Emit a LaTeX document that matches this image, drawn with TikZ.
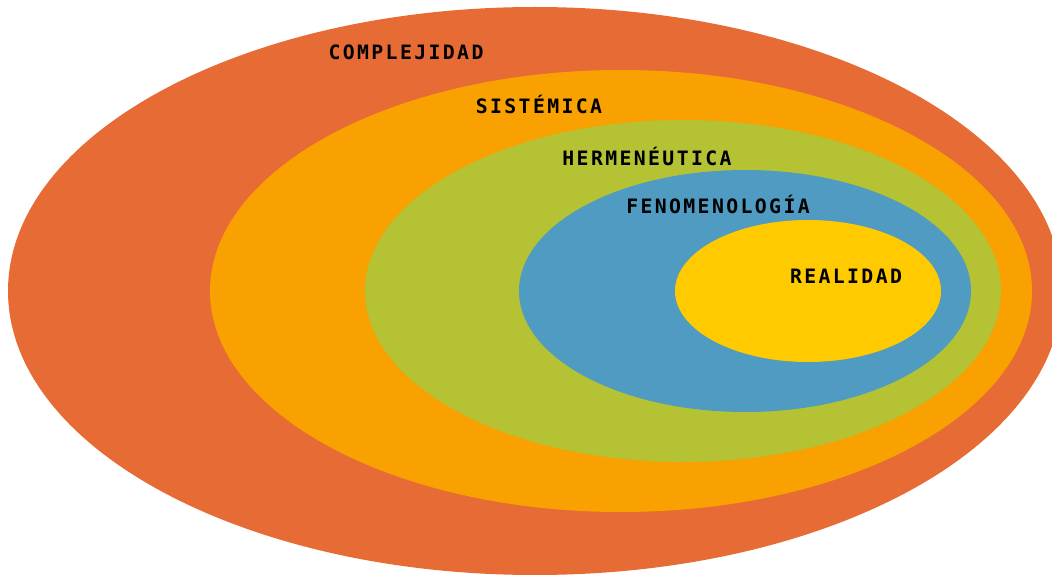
\documentclass[tikz,border=0pt]{standalone}
\usepackage{fontspec}
\newfontfamily\labfont[LetterSpace=12]{DejaVu Sans Mono Bold}
\definecolor{cOut}{HTML}{E76B35}
\definecolor{cSis}{HTML}{F8A100}
\definecolor{cHer}{HTML}{B4C234}
\definecolor{cFen}{HTML}{4F9BC1}
\definecolor{cRea}{HTML}{FFCA00}
\begin{document}
\begin{tikzpicture}[x=1pt,y=-1pt,
  lab/.style={anchor=base,inner sep=0pt,font=\labfont\fontsize{19.8}{21}\selectfont,text=black}]
\useasboundingbox (0,0) rectangle (1052,575);
\clip (0,0) rectangle (1052,575);
\fill[cOut] (535,291) ellipse [x radius=527, y radius=284];
\fill[cSis] (621,291) ellipse [x radius=411, y radius=221];
\fill[cHer] (683,291) ellipse [x radius=318, y radius=171];
\fill[cFen] (745,291) ellipse [x radius=226, y radius=121];
\fill[cRea] (808,291) ellipse [x radius=133, y radius=71];
\node[lab] (complejidad) at (406,59.5) {COMPLEJIDAD};
\node[lab] (sistemica) at (539,113.5) {SISTÉMICA};
\node[lab] (hermeneutica) at (647,165.5) {HERMENÉUTICA};
\node[lab] (fenomenologia) at (718,213.5) {FENOMENOLOGÍA};
\node[lab] (realidad) at (846,283.5) {REALIDAD};
\end{tikzpicture}
\end{document}
